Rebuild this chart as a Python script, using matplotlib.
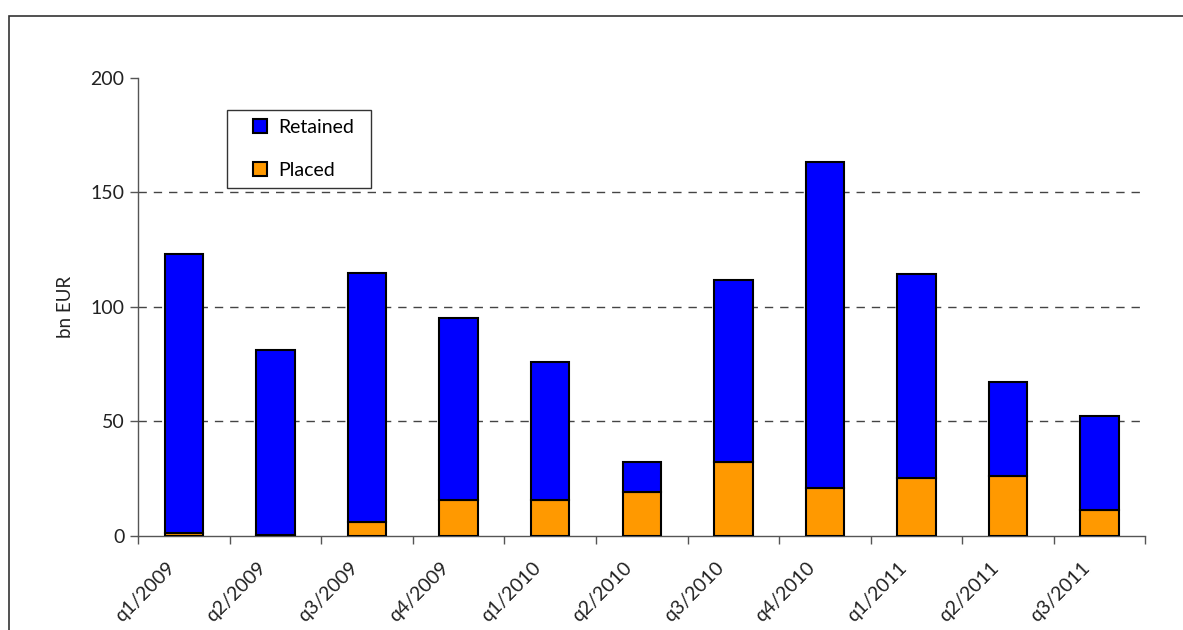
import matplotlib.pyplot as plt
from matplotlib.patches import Rectangle

# quarters and issuance volumes (bn EUR)
quarters = ["q1/2009", "q2/2009", "q3/2009", "q4/2009", "q1/2010", "q2/2010",
            "q3/2010", "q4/2010", "q1/2011", "q2/2011", "q3/2011"]
placed = [1.5, 0.5, 6.0, 15.7, 15.7, 19.0, 32.1, 20.8, 25.1, 26.0, 11.2]
total = [123.0, 81.0, 114.6, 95.0, 75.8, 32.2, 111.8, 163.4, 114.4, 67.4, 52.4]
retained = [t - p for t, p in zip(total, placed)]

plt.rcParams['font.family'] = ['Lato', 'DejaVu Sans']

W, H = 1183, 630
fig = plt.figure(figsize=(W / 100, H / 100), dpi=100)
ax = fig.add_axes([138.3 / W, 94 / H, 1007 / W, 458.3 / H])

# outer frame, cut off at right and bottom like the source image
fig.patches.append(Rectangle((9 / W, -0.1), 1.2, (H - 15.7) / H + 0.1,
                             transform=fig.transFigure, fill=False,
                             edgecolor='#333333', linewidth=1.2))
# legend box
fig.patches.append(Rectangle((227 / W, (H - 188.3) / H), 144 / W, 78.6 / H,
                             transform=fig.transFigure, facecolor='white',
                             edgecolor='#333333', linewidth=1, zorder=5))

x = list(range(len(quarters)))
ax.bar(x, placed, width=0.42, color='#ff9900', edgecolor='black',
       linewidth=1.5, label='Placed', zorder=3)
ax.bar(x, retained, width=0.42, bottom=placed, color='#0000ff',
       edgecolor='black', linewidth=1.5, label='Retained', zorder=3)

ax.set_xlim(-0.5, len(quarters) - 0.5)
ax.set_ylim(0, 200)
ax.set_yticks([0, 50, 100, 150, 200])
for yv in [50, 100, 150]:
    ax.axhline(yv, color='#444444', linewidth=1, linestyle=(0, (6, 5)), zorder=1)

ax.set_xticks([i - 0.5 for i in range(len(quarters) + 1)])
ax.set_xticklabels([])
ax.tick_params(axis='x', direction='out', length=6, width=1, color='#555555')
ax.tick_params(axis='y', direction='out', length=6, width=1, color='#555555',
               labelsize=14, labelcolor='#222222', pad=4)
for i, q in enumerate(quarters):
    ax.text(i - 0.2, -10, q, rotation=45, ha='right', va='top',
            rotation_mode='anchor', fontsize=14, color='#222222')

for side in ['top', 'right']:
    ax.spines[side].set_visible(False)
for side in ['left', 'bottom']:
    ax.spines[side].set_color('#555555')
    ax.spines[side].set_linewidth(1)

ax.set_ylabel('bn EUR', fontsize=13.5, color='#222222', labelpad=12)

handles, labels = ax.get_legend_handles_labels()
leg = fig.legend(handles[::-1], labels[::-1], loc='upper left',
                 bbox_to_anchor=(247 / W, (H - 113) / H),
                 fontsize=14, frameon=False, handlelength=0.75,
                 handleheight=0.75, handletextpad=0.55, labelspacing=1.35,
                 borderpad=0.3, borderaxespad=0)
leg.set_zorder(6)

fig.savefig('out.png', dpi=100)
